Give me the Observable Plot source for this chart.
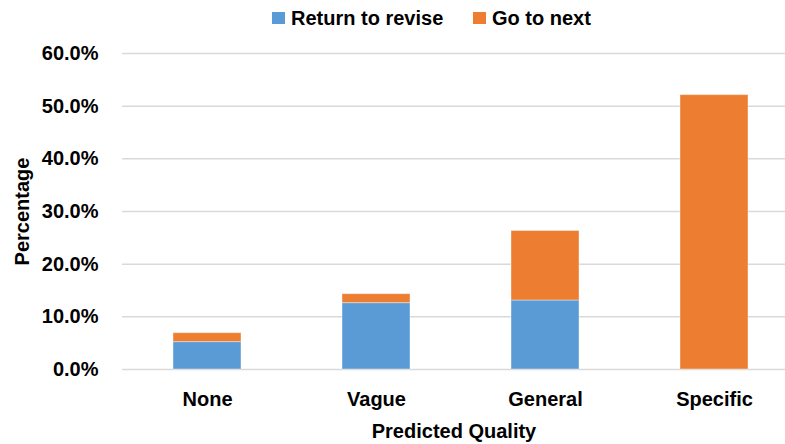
<!DOCTYPE html>
<html>
<head>
<meta charset="utf-8">
<script src="https://cdn.jsdelivr.net/npm/d3@7"></script>
<script src="https://cdn.jsdelivr.net/npm/@observablehq/plot@0.6"></script>
<style>
  body { margin: 0; background: #fff; font-family: "Liberation Sans", Arial, sans-serif; }
  #legend { height: 40px; position: relative; font-weight: bold; font-size: 20px; color: #000; }
  .item { position: absolute; top: 8px; display: flex; align-items: center; line-height: 20px; }
  .sw { width: 13px; height: 12px; margin-right: 6px; }
  svg { display: block; }
</style>
</head>
<body>
<div id="legend"></div>
<div id="chart"></div>
<script>
const categories = ["None", "Vague", "General", "Specific"];
const seriesNames = ["Return to revise", "Go to next"];
const returnToRevise = [5.2, 12.6, 13.1, 0];
const goToNext = [1.7, 1.7, 13.2, 52.1];
const colors = ["#5B9BD5", "#ED7D31"];
const yTicks = [0, 0.1, 0.2, 0.3, 0.4, 0.5, 0.6];

const table = [];
categories.forEach((c, i) => {
  table.push({category: c, series: seriesNames[0], value: returnToRevise[i] / 100});
  table.push({category: c, series: seriesNames[1], value: goToNext[i] / 100});
});

// legend
const legend = document.getElementById("legend");
const legendX = [272, 473];
seriesNames.forEach((s, i) => {
  const it = document.createElement("div");
  it.className = "item";
  it.style.left = legendX[i] + "px";
  const sw = document.createElement("div");
  sw.className = "sw";
  sw.style.background = colors[i];
  const tx = document.createElement("span");
  tx.textContent = s;
  it.appendChild(sw); it.appendChild(tx);
  legend.appendChild(it);
});

const chart = Plot.plot({
  width: 785,
  height: 404,
  marginTop: 13,
  marginBottom: 75,
  marginLeft: 122,
  marginRight: 0,
  style: {fontFamily: "Liberation Sans, Arial, sans-serif", fontSize: "20px", fontWeight: "bold", color: "#000", overflow: "visible"},
  x: {domain: categories, range: [122, 799], paddingInner: 0.6, paddingOuter: 0.3},
  y: {domain: [0, 0.6]},
  color: {domain: seriesNames, range: colors},
  marks: [
    Plot.ruleY(yTicks, {stroke: "#d9d9d9", strokeWidth: 1.5}),
    Plot.barY(table, Plot.stackY({order: null}, {x: "category", y: "value", fill: "series", stroke: "#fff", strokeOpacity: 0.4, strokeWidth: 1})),
    Plot.axisY({ticks: yTicks, tickFormat: d3.format(".1%"), tickSize: 0, tickPadding: 24, label: "Percentage", labelArrow: "none", labelAnchor: "center", labelOffset: 108, fontSize: 20, fontWeight: "bold"}),
    Plot.axisX({tickSize: 0, tickPadding: 22, label: "Predicted Quality", labelArrow: "none", labelAnchor: "center", labelOffset: 68, fontSize: 20, fontWeight: "bold"})
  ]
});
document.getElementById("chart").appendChild(chart);
</script>
</body>
</html>
